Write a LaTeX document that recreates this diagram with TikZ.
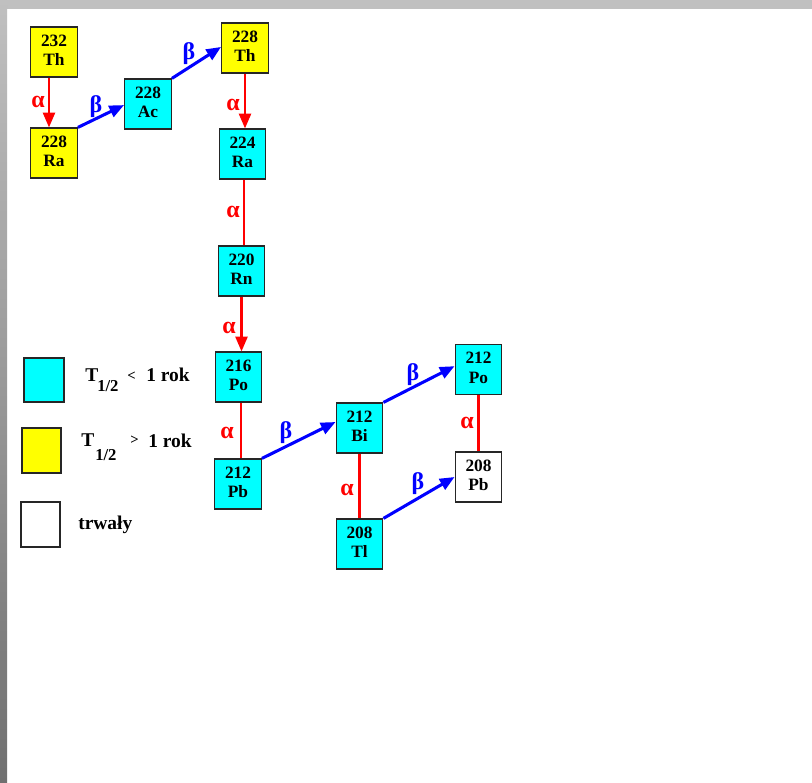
\documentclass[tikz,border=0pt]{standalone}
\usepackage{fontspec}
\setmainfont{Liberation Serif}
\usetikzlibrary{arrows.meta}
\definecolor{cy}{RGB}{0,255,255}
\definecolor{ye}{RGB}{255,255,0}
\definecolor{rd}{RGB}{255,0,0}
\definecolor{bl}{RGB}{0,0,255}
\definecolor{framegray}{RGB}{192,192,192}
\definecolor{framedark}{RGB}{112,112,112}
\newcommand\nuc[2]{\raisebox{0.8pt}{\begin{tabular}{@{}c@{}}#1\\[-0.6pt]#2\end{tabular}}}
\begin{document}
\begin{tikzpicture}[x=0.75pt,y=-0.75pt,
  nucbox/.style={draw=black!85, line width=0.9pt, minimum width=35pt, minimum height=37.5pt,
    inner sep=0pt, font=\fontsize{13}{15}\selectfont\bfseries},
  shortlived/.style={nucbox, fill=cy},
  longlived/.style={nucbox, fill=ye},
  stablebox/.style={nucbox, fill=white},
  legbox/.style={draw=black!85, line width=0.8pt, inner sep=0pt},
  alphaline/.style={draw=rd, line width=1.6pt},
  betaline/.style={draw=bl, line width=2.3pt},
  tipped/.style={-{Triangle[length=11pt,width=9pt]}},
  alab/.style={text=rd, font=\fontsize{18}{18}\selectfont\bfseries, inner sep=0pt},
  blab/.style={text=bl, font=\fontsize{18}{18}\selectfont\bfseries, inner sep=0pt},
  legtext/.style={font=\fontsize{14.6}{16}\selectfont\bfseries, inner sep=0pt, anchor=base west},
  legsub/.style={font=\fontsize{12.5}{14}\selectfont\bfseries, inner sep=0pt, anchor=base west},
  legrel/.style={font=\fontsize{11}{12}\selectfont\bfseries, inner sep=0pt, anchor=base west}
]
\useasboundingbox (0,0) rectangle (812,782);
\fill[white] (0,0) rectangle (812,782);
% frame bands
\fill[framegray] (0,0) rectangle (812,9);
\shade[top color=framegray, bottom color=framedark] (0,0) rectangle (7,782);

% nuclides
\node[longlived]  (th232) at (54,52)      {\nuc{232}{Th}};
\node[longlived]  (ra228) at (54,153)     {\nuc{228}{Ra}};
\node[shortlived] (ac228) at (148,104)    {\nuc{228}{Ac}};
\node[longlived]  (th228) at (245,48)     {\nuc{228}{Th}};
\node[shortlived] (ra224) at (242.5,154)  {\nuc{224}{Ra}};
\node[shortlived] (rn220) at (241.5,271)  {\nuc{220}{Rn}};
\node[shortlived] (po216) at (238.5,377)  {\nuc{216}{Po}};
\node[shortlived] (pb212) at (238,484)    {\nuc{212}{Pb}};
\node[shortlived] (bi212) at (359.5,428)  {\nuc{212}{Bi}};
\node[shortlived] (po212) at (478.5,369.5){\nuc{212}{Po}};
\node[stablebox]  (pb208) at (478.5,477)  {\nuc{208}{Pb}};
\node[shortlived] (tl208) at (359.5,544)  {\nuc{208}{Tl}};

% decays
\draw[alphaline,tipped] ([xshift=-3.75pt]th232.south) -- ([xshift=-3.75pt]ra228.north);
\draw[betaline,tipped] (ra228.north east) -- ([yshift=-0.8pt]ac228.west);
\draw[betaline,tipped] (ac228.north east) -- ([yshift=0.8pt]th228.west);
\draw[alphaline,tipped] (th228.south) -- (th228.south |- ra224.north);
\draw[alphaline] ([xshift=1pt]ra224.south) -- ([xshift=1pt]ra224.south |- rn220.north);
\draw[alphaline,tipped] (rn220.south) -- (rn220.south |- po216.north);
\draw[alphaline] ([xshift=2pt]po216.south) -- ([xshift=2pt]po216.south |- pb212.north);
\draw[betaline,tipped] (pb212.north east) -- ([yshift=4.5pt]bi212.west);
\draw[betaline,tipped] (bi212.north east) -- ([yshift=2.5pt]po212.west);
\draw[alphaline] (po212.south) -- (pb208.north);
\draw[alphaline] (bi212.south) -- (tl208.north);
\draw[betaline,tipped] (tl208.north east) -- (pb208.west);

% decay labels
\node[alab] (a1) at (38,102)  {α};
\node[blab] (b1) at (96,107)  {β};
\node[blab] (b2) at (189,54)  {β};
\node[alab] (a2) at (233,105) {α};
\node[alab] (a3) at (233,212) {α};
\node[alab] (a4) at (229,328) {α};
\node[alab] (a5) at (227,433) {α};
\node[blab] (b3) at (286,433) {β};
\node[blab] (b4) at (413,375) {β};
\node[alab] (a6) at (467,423) {α};
\node[alab] (a7) at (347,490) {α};
\node[blab] (b5) at (418,484) {β};

% legend
\node[legbox, fill=cy, minimum width=30pt, minimum height=33pt] (lg1) at (44,380) {};
\node[legbox, fill=ye, minimum width=29.25pt, minimum height=33.75pt] (lg2) at (41.5,450.5) {};
\node[legbox, fill=white, minimum width=29.25pt, minimum height=33.75pt] (lg3) at (40.5,524.5) {};

\node[legtext] (l1t) at (85,381) {T};
\node[legsub]  (l1s) at (97,391) {1/2};
\node[legrel]  (l1r) at (127,380) {<};
\node[legtext] (l1k) at (146,381) {1 rok};

\node[legtext] (l2t) at (81,446) {T};
\node[legsub]  (l2s) at (95,460) {1/2};
\node[legrel]  (l2r) at (130,444) {>};
\node[legtext] (l2k) at (148,447) {1 rok};

\node[legtext] (l3) at (78,529) {trwały};
\end{tikzpicture}
\end{document}
